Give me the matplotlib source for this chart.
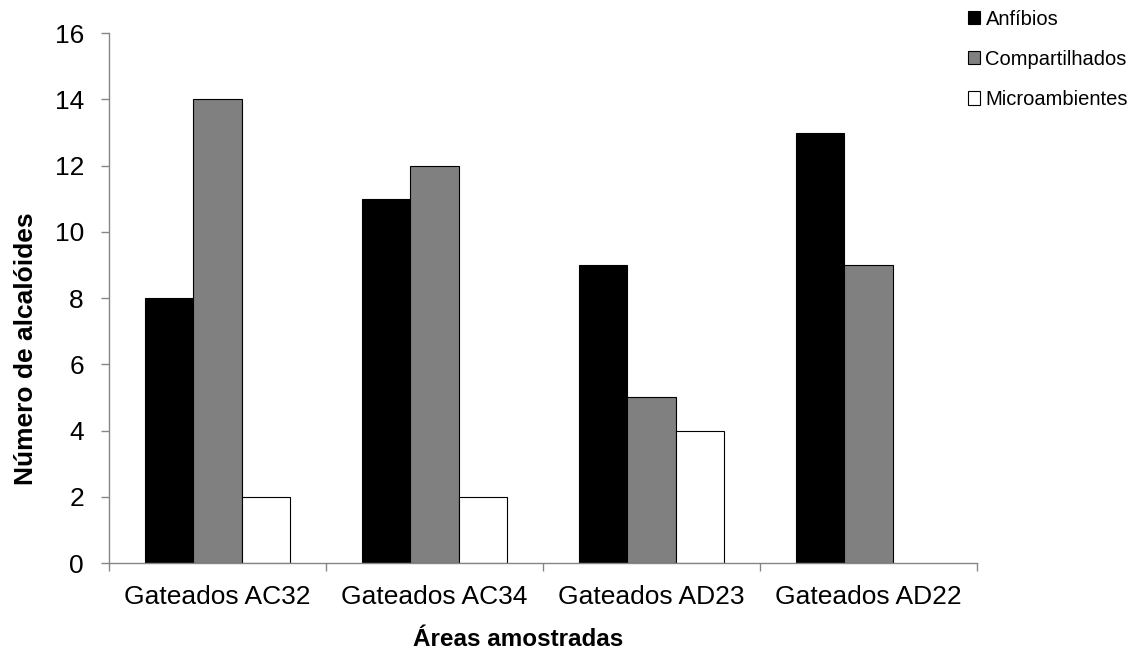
import matplotlib.pyplot as plt
import numpy as np
from matplotlib.patches import Patch

plt.rcParams['font.family'] = ['Liberation Sans', 'DejaVu Sans']

categorias = ['Gateados AC32', 'Gateados AC34', 'Gateados AD23', 'Gateados AD22']
anfibios = [8, 11, 9, 13]
compartilhados = [14, 12, 5, 9]
microambientes = [2, 2, 4, 0]

series = [('Anfíbios', anfibios, '#000000'),
          ('Compartilhados', compartilhados, '#808080'),
          ('Microambientes', microambientes, '#ffffff')]

fig = plt.figure(figsize=(11.42, 6.52), dpi=100)
ax = fig.add_axes([0.0954, 0.1365, 0.760, 0.8125])

x = np.arange(len(categorias))
w = 0.223
for i, (nome, vals, cor) in enumerate(series):
    # bars with zero height are not drawn at all
    v = np.array(vals, dtype=float)
    mask = v > 0
    ax.bar(x[mask] + (i - 1) * w, v[mask], width=w, color=cor,
           edgecolor='black', linewidth=0.8)

ax.set_xlim(-0.5, len(categorias) - 0.5)
ax.set_ylim(0, 16)
ax.set_yticks(range(0, 17, 2))
ax.set_xticks(x)
ax.set_xticklabels(categorias, fontsize=19)
ax.set_xticks(np.arange(-0.5, len(categorias)), minor=True)
ax.tick_params(axis='x', which='major', length=0, pad=16)
ax.tick_params(axis='x', which='minor', length=6, color='#868686', width=1)
ax.tick_params(axis='y', labelsize=19, length=6, color='#868686', width=1, pad=12)

for s in ['top', 'right']:
    ax.spines[s].set_visible(False)
for s in ['left', 'bottom']:
    ax.spines[s].set_color('#868686')
    ax.spines[s].set_linewidth(1)

ax.set_ylabel('Número de alcalóides', fontsize=19, fontweight='bold', va='center')
ax.yaxis.set_label_coords(-0.095, 0.405)
ax.set_xlabel('Áreas amostradas', fontsize=17.5, fontweight='bold', va='center')
ax.xaxis.set_label_coords(0.472, -0.145)

handles = [Patch(facecolor=c, edgecolor='black', linewidth=0.8, label=n) for n, _, c in series]
fig.legend(handles=handles, loc='upper left', bbox_to_anchor=(0.8476, 0.985),
           frameon=False, fontsize=14.5, handlelength=0.62, handleheight=0.62,
           handletextpad=0.25, labelspacing=1.05, borderpad=0, borderaxespad=0)

fig.savefig('out.png', dpi=100)
